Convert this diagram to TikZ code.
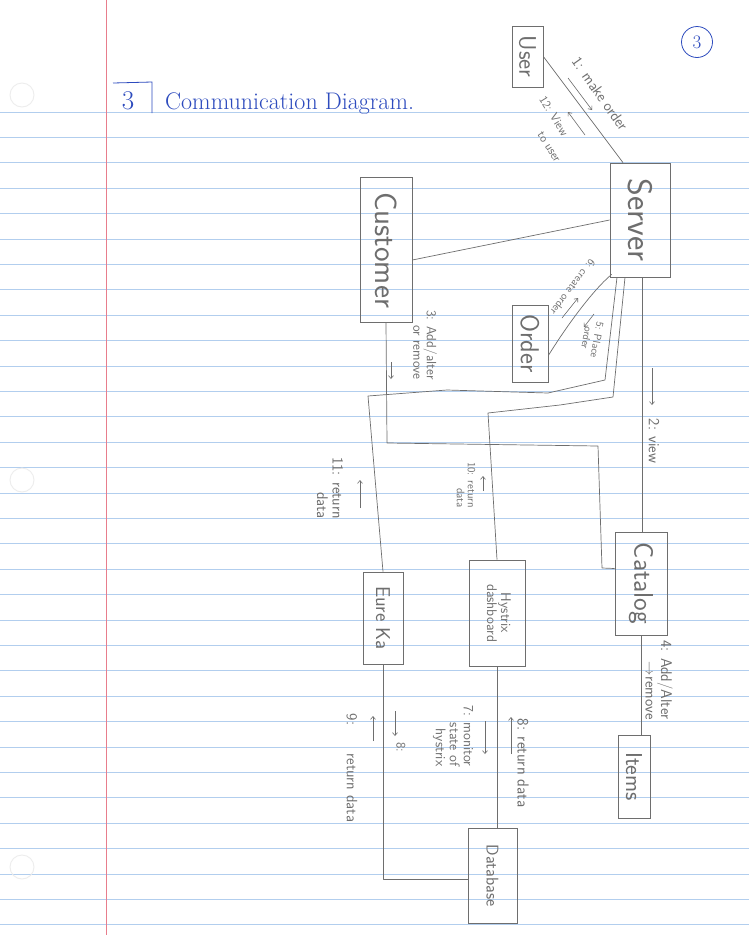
\documentclass[tikz,border=0pt]{standalone}
\usepackage{graphicx}
\usetikzlibrary{arrows.meta,calc}
\definecolor{pencil}{RGB}{110,110,110}
\definecolor{ruled}{RGB}{178,206,238}
\definecolor{marginred}{RGB}{232,125,140}
\definecolor{ink}{RGB}{45,75,190}
\newcommand{\fs}[1]{\fontsize{#1}{#1}\selectfont}
\begin{document}
\begin{tikzpicture}[x=1pt,y=-1pt,
 obj/.style={draw=pencil, line width=0.7pt, inner sep=0pt, text=pencil, font=\sffamily},
 conn/.style={draw=pencil, line width=0.7pt, line join=round},
 msg/.style={-{Straight Barb[length=3pt,width=5pt]}, draw=pencil, line width=0.6pt},
 lbl/.style={text=pencil, font=\sffamily, inner sep=0pt, align=center},
 lblr/.style={lbl, align=right},
]
% paper
\fill[white] (0,0) rectangle (749,935);
\path[use as bounding box] (0,0) rectangle (749,935);
\foreach \k in {0,...,32} \draw[ruled, line width=0.8pt] (0,{112+25.4*\k}) -- (749,{112+25.4*\k});
\draw[marginred, line width=0.8pt] (106,0) -- (106,935);
\foreach \yy in {95,480,867} \draw[gray!14, line width=0.9pt] (22,\yy) circle (12);

% title and page number
\node[text=ink, font=\fs{27}, anchor=base, inner sep=0pt] (num) at (128,109) {3};
\draw[ink, line width=0.8pt] (113,83) -- (152,82) -- (152,113);
\node[text=ink, font=\fs{24}, anchor=base west, inner sep=0pt] (title) at (165,109) {Communication Diagram.};
\node[draw=ink, circle, line width=0.8pt, text=ink, minimum size=31pt, inner sep=0pt, font=\fs{19}] (pagenum) at (697,42) {3};

% objects
\node[obj, minimum width=31pt, minimum height=61pt] (user) at (527.5,56.5) {\rotatebox{-90}{\fs{24}User}};
\node[obj, minimum width=60pt, minimum height=114pt] (server) at (640,220) {\rotatebox{-90}{\fs{34}Server}};
\node[obj, minimum width=52pt, minimum height=145pt] (customer) at (386,250) {\rotatebox{-90}{\fs{31}Customer}};
\node[obj, minimum width=36pt, minimum height=77pt] (order) at (530,343.5) {\rotatebox{-90}{\fs{26}Order}};
\node[obj, minimum width=52pt, minimum height=103pt] (catalog) at (641,583.5) {\rotatebox{-90}{\fs{27}Catalog}};
\node[obj, minimum width=40pt, minimum height=92pt] (eureka) at (383,618) {\rotatebox{-90}{\fs{20}Eure Ka}};
\node[obj, minimum width=56pt, minimum height=106pt] (hystrix) at (497,613) {\rotatebox{-90}{\fs{14}\begin{tabular}{@{}c@{}}Hystrix\\dashboard\end{tabular}}};
\node[obj, minimum width=32pt, minimum height=83pt] (items) at (634,776.5) {\rotatebox{-90}{\fs{23}Items}};
\node[obj, minimum width=49pt, minimum height=95pt] (database) at (492.5,875.5) {\rotatebox{-90}{\fs{17}Database}};

% links
\draw[conn] (user.east) -- ($(server.north)+(-17,0)$);
\draw[conn] ($(customer.east)+(0,10)$) -- (server.west);
\draw[conn] ($(order.east)+(0,12)$) .. controls (566,327) and (592,291) .. ($(server.south west)+(2,-3)$);
\draw[conn] ($(server.south)+(2,0)$) -- ($(catalog.north)+(1,0)$);
\draw[conn] ($(server.south)+(-23,0)$) -- (605,380) -- (548,393) -- (447,390) -- (368,396) -- (eureka.north);
\draw[conn] ($(server.south)+(-15,0)$) -- (613,397) -- (560,405) -- (488,413) -- (hystrix.north);
\draw[conn] (customer.south) -- (387,443) -- (598,446) -- (602,568) -- ($(catalog.west)+(0,-15)$);
\draw[conn] (catalog.south) -- (catalog.south |- items.north);
\draw[conn] (hystrix.south) -- (hystrix.south |- database.north);
\draw[conn] (eureka.south) |- ($(database.west)+(0,4)$);

% messages
\node[lbl, rotate=-54.7, font=\sffamily\fs{15}] (m1) at (600,94) {1: make order};
\draw[msg] (568,78) -- (592,110);
\node[lbl, rotate=-58, font=\sffamily\fs{12}] (m12a) at (554,116) {12: View};
\node[lbl, rotate=-58, font=\sffamily\fs{12}] (m12b) at (549,147) {to user};
\draw[msg] (585,135) -- (568,112);

\node[lbl, rotate=-127, font=\sffamily\fs{11}] (m6) at (573,287) {6: create order};
\draw[msg] (562,318) -- (578,298);
\node[lbl, rotate=-100, font=\sffamily\fs{10.5}] (m5) at (592,339) {5: Place\\order};
\draw[msg] (594,314) -- (584,327);

\node[lblr, rotate=-90, font=\sffamily\fs{13.5}] (m3) at (425,345) {3: Add/alter\\or remove};
\draw[msg] (391,362) -- (391,379);

\node[lbl, rotate=-90, font=\sffamily\fs{15.5}] (m2) at (654,441) {2: view};
\draw[msg] (652,368) -- (652,405);

\node[lblr, rotate=-90, font=\sffamily\fs{15.5}] (m11) at (330,488) {11: return\\data};
\draw[msg] (360,508) -- (360,480);

\node[lblr, rotate=-90, font=\sffamily\fs{11}] (m10) at (466,485) {10: return\\data};
\draw[msg] (483,491) -- (483,476);

\node[lblr, rotate=-90, font=\sffamily\fs{15.5}] (m4) at (659,680) {4: Add/Alter\\$\rightarrow$remove};

\node[lbl, rotate=-90, font=\sffamily\fs{13}] (m8a) at (401,747) {8:};
\draw[msg] (395,711) -- (395,736);
\node[lbl, rotate=-90, font=\sffamily\fs{15}] (m9) at (352,768) {9:\hspace{1.9em}return data};
\draw[msg] (373,741) -- (373,716);

\node[lblr, rotate=-90, font=\sffamily\fs{14}] (m7) at (453,736) {7: monitor\\state of\\hystrix};
\draw[msg] (485,721) -- (485,754);
\node[lbl, rotate=-90, font=\sffamily\fs{16}] (m8b) at (523,763) {8: return data};
\draw[msg] (511,754) -- (511,717);
\end{tikzpicture}
\end{document}
